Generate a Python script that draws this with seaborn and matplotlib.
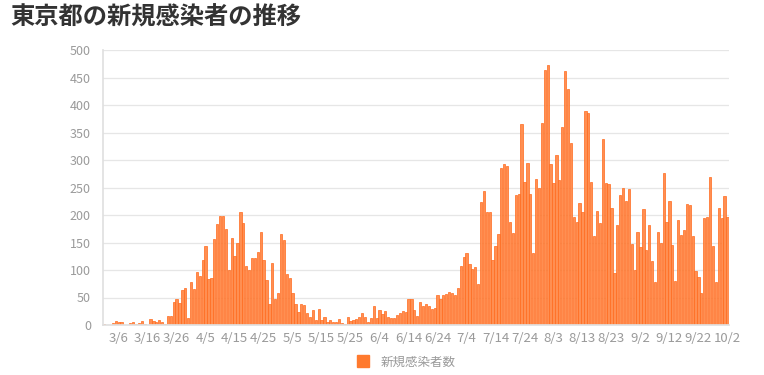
import matplotlib
matplotlib.use("Agg")
import matplotlib.pyplot as plt
import seaborn as sns
import pandas as pd
import numpy as np
from matplotlib.lines import Line2D

# ---- data (2020-03-01 .. 2020-10-02) ----
mar = [2, 0, 0, 4, 8, 6, 6, 0, 0, 3, 6, 2, 3, 8, 2, 0, 11, 7, 6, 9, 5, 2, 16, 17, 41, 47, 40, 63, 68, 13, 78]
apr = [66, 97, 89, 118, 143, 83, 86, 156, 183, 199, 198, 174, 100, 159, 126, 150, 206, 186, 108, 100,
       122, 122, 133, 169, 118, 82, 39, 112, 47, 58]
may = [165, 155, 92, 85, 58, 38, 23, 39, 36, 22, 15, 28, 10, 30, 9, 14, 5, 10, 5, 5, 11, 3, 2, 14,
       8, 10, 11, 15, 22, 14, 5]
jun = [13, 34, 12, 28, 20, 26, 14, 13, 12, 18, 22, 25, 24, 47, 48, 27, 16, 41, 35, 39, 35, 29, 31,
       55, 48, 54, 57, 60, 58, 54]
jul = [67, 107, 124, 131, 111, 102, 106, 75, 224, 243, 206, 206, 119, 143, 165, 286, 293, 290, 188,
       168, 237, 238, 366, 260, 295, 239, 131, 266, 250, 367, 463]
aug = [472, 292, 258, 309, 263, 360, 462, 429, 331, 197, 188, 222, 206, 389, 385, 260, 161, 207, 186,
       339, 258, 256, 212, 95, 182, 236, 250, 226, 248, 148, 100]
sep = [170, 141, 211, 136, 181, 116, 78, 170, 149, 276, 187, 226, 146, 80, 191, 163, 172, 220, 218,
       162, 98, 88, 59, 195, 197, 270, 144, 78, 212, 194]
octo = [235, 196]

counts = mar + apr + may + jun + jul + aug + sep + octo
month_lengths = [(3, len(mar)), (4, len(apr)), (5, len(may)), (6, len(jun)),
                 (7, len(jul)), (8, len(aug)), (9, len(sep)), (10, len(octo))]
dates = [f"{m}/{d}" for m, n in month_lengths for d in range(1, n + 1)]

tick_labels = ["3/6", "3/16", "3/26", "4/5", "4/15", "4/25", "5/5", "5/15", "5/25", "6/4", "6/14",
               "6/24", "7/4", "7/14", "7/24", "8/3", "8/13", "8/23", "9/2", "9/12", "9/22", "10/2"]
y_ticks = list(range(0, 501, 50))

title = "東京都の新規感染者の推移"
series_name = "新規感染者数"

df = pd.DataFrame({"date": dates, "count": counts})

# ---- style ----
sns.set_theme(style="white")
plt.rcParams["font.family"] = ["Noto Sans CJK JP", "DejaVu Sans"]

fig = plt.figure(figsize=(7.64, 3.75), dpi=100)
ax = fig.add_axes([102.7 / 764, 1 - 325 / 375, (728.9 - 102.7) / 764, 275 / 375])

sns.barplot(data=df, x="date", y="count", ax=ax, color="#ff8f52", saturation=1,
            width=0.78, edgecolor="#ff6a1c", linewidth=0.5)

ax.set_ylim(0, 500)
ax.set_yticks(y_ticks)
ax.set_xlim(-0.5, len(dates) - 0.5)
pos = [dates.index(t) for t in tick_labels]
ax.set_xticks(pos)
ax.set_xticklabels(tick_labels)
ax.set_xlabel("")
ax.set_ylabel("")

ax.grid(axis="y", color="#e6e6e6", linewidth=0.9)
ax.set_axisbelow(True)
for s in ["top", "right"]:
    ax.spines[s].set_visible(False)
ax.spines["left"].set_color("#e0e0e0")
ax.spines["bottom"].set_color("#e0e0e0")
ax.tick_params(axis="y", length=6.5, color="#e6e6e6", labelcolor="#9a9a9a", labelsize=9, pad=2)
ax.tick_params(axis="x", length=0, labelcolor="#9a9a9a", labelsize=9.5, pad=5)

fig.text(10 / 764, 1 - 18 / 375, title, fontsize=17.5, fontweight="bold", color="#333333",
         va="center", ha="left")

handle = Line2D([0], [0], marker="s", linestyle="none", markersize=9,
                markerfacecolor="#ff7a2e", markeredgecolor="#ff7a2e")
fig.legend([handle], [series_name], loc="center", bbox_to_anchor=(0.527, 1 - 362 / 375),
           frameon=False, fontsize=9, labelcolor="#9a9a9a", handletextpad=0.4)

fig.savefig("out.png", dpi=100)
